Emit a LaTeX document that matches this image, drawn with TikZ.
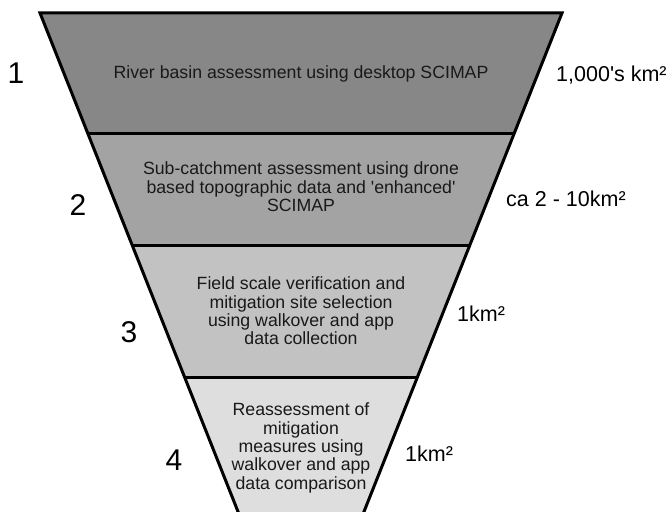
\documentclass[tikz,border=0pt]{standalone}
\usepackage{fontspec}
\setmainfont{Liberation Sans}
\begin{document}
\begin{tikzpicture}[x=1pt,y=-1pt,
  band/.style={draw=none},
  edge/.style={line width=3pt, line join=miter, line cap=butt},
  bandtext/.style={align=center, font=\fontsize{17.7}{18.4}\selectfont, inner sep=0pt, text=black!90},
  sizelabel/.style={anchor=west, font=\fontsize{21.5}{24}\selectfont, inner sep=0pt},
  numlabel/.style={font=\fontsize{30}{32}\selectfont, inner sep=0pt}]
\useasboundingbox (0,0) rectangle (671,511);
\clip (0,0) rectangle (671,511);
% corner coordinates
\coordinate (L0) at (40,13);    \coordinate (R0) at (562,13);
\coordinate (L1) at (87.6,133); \coordinate (R1) at (514.4,133);
\coordinate (L2) at (132.1,245);\coordinate (R2) at (469.9,245);
\coordinate (L3) at (184.5,377);\coordinate (R3) at (417.5,377);
\coordinate (L4) at (245.3,530);\coordinate (R4) at (356.7,530);
% bands
\fill[band, fill={rgb,255:red,135;green,135;blue,135}] (L0) -- (R0) -- (R1) -- (L1) -- cycle;
\fill[band, fill={rgb,255:red,163;green,163;blue,163}] (L1) -- (R1) -- (R2) -- (L2) -- cycle;
\fill[band, fill={rgb,255:red,194;green,194;blue,194}] (L2) -- (R2) -- (R3) -- (L3) -- cycle;
\fill[band, fill={rgb,255:red,222;green,222;blue,222}] (L3) -- (R3) -- (R4) -- (L4) -- cycle;
% outline
\draw[edge] (L4) -- (L0) -- (R0) -- (R4);
\draw[edge] (L1) -- (R1);
\draw[edge] (L2) -- (R2);
\draw[edge] (L3) -- (R3);
% band texts
\node[bandtext] (t1) at (301,74) {River basin assessment using desktop SCIMAP};
\node[bandtext] (t2) at (301,187) {Sub-catchment assessment using drone\\based topographic data and \textquotesingle enhanced\textquotesingle\\SCIMAP};
\node[bandtext] (t3) at (301,311) {Field scale verification and\\mitigation site selection\\using walkover and app\\data collection};
\node[bandtext] (t4) at (301,448) {Reassessment of\\mitigation\\measures using\\walkover and app\\data comparison};
% numbers
\node[numlabel] (n1) at (16,73) {1};
\node[numlabel] (n2) at (78,205) {2};
\node[numlabel] (n3) at (129,332) {3};
\node[numlabel] (n4) at (174,460) {4};
% size labels
\node[sizelabel] (s1) at (556,75) {1,000\textquotesingle s km²};
\node[sizelabel] (s2) at (506,199) {ca 2 - 10km²};
\node[sizelabel] (s3) at (457,314) {1km²};
\node[sizelabel] (s4) at (405,454) {1km²};
\end{tikzpicture}
\end{document}
